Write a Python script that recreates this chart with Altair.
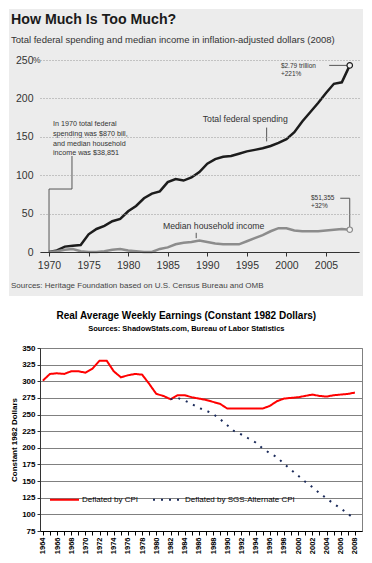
import altair as alt
import pandas as pd

ARIAL = "Liberation Sans, Arial, sans-serif"

# ---------------- top chart data ----------------
years_top = list(range(1970, 2009))
spending = [0, 2, 7, 8, 9, 23, 30, 34, 40, 43, 53, 60, 70, 76, 79, 91, 95, 93, 97, 104,
            115, 121, 124, 125, 128, 131, 133, 135, 138, 142, 147, 156, 170, 182, 194,
            207, 219, 221, 243]
income = [0, 1, 3, 4, 1, 0, 0, 1, 3, 4, 2, 1, 0, 0, 4, 6, 10, 12, 13, 15,
          13, 11, 10, 10, 10, 14, 18, 22, 27, 31, 31, 28, 27, 27, 27, 28, 29, 30, 29]
top_series = ["Total federal spending", "Median household income"]
top_colors = ["#1c1c1c", "#8c8c8c"]
top_xticks = [1970, 1975, 1980, 1985, 1990, 1995, 2000, 2005]
top_yticks = [0, 50, 100, 150, 200, 250]

note_text = ["In 1970 total federal", "spending  was $870 bill,", "and median household", "income was $38,851"]
note_yr = [1970.5] * 4
note_val = [166.7, 153.6, 140.6, 128.9]
end_text = ["$2.79 trillion", "+221%", "$51,355", "+32%"]
end_yr = [1999.3, 1999.3, 2003.1, 2003.1]
end_val = [242.5, 231.5, 70.5, 60.5]
lab_text = ["Total federal spending", "Median household income"]
lab_yr = [1994.8, 1990.8]
lab_val = [173.2, 33.9]
lead_g = [1, 1, 1, 1, 2, 2, 3, 3, 4, 4, 5, 5, 5]
lead_yr = [1970, 1970, 1972.9, 1972.9, 1997.5, 1997.5, 1988.6, 1988.6, 2005.4, 2008, 2006.8, 2008, 2008]
lead_val = [0, 82, 82, 125, 162, 144, 25, 18, 243, 243, 70, 70, 29]

# ---------------- bottom chart data ----------------
years_bot = list(range(1964, 2009))
cpi = [301, 311, 312, 311, 315, 315, 313, 319, 331, 331,
       315, 306, 309, 311, 310, 296, 281, 278, 273, 279,
       279, 276, 274, 272, 269, 266, 259, 259, 259, 259,
       259, 259, 263, 270, 274, 275, 276, 278, 280, 278,
       277, 279, 280, 281, 283]
years_sgs = list(range(1982, 2009))
sgs = [273, 275, 271, 266, 260, 256, 251, 243, 234, 225, 220, 214, 208, 199,
       192, 186, 176, 167, 158, 149, 141, 132, 124, 116, 109, 101, 93]
bot_series = ["Deflated by CPI", "Deflated by SGS-Alternate CPI"]
bot_colors = ["#ff0000", "#1a2a5a"]

# ---------------- top chart ----------------
W, H = 319, 192
top_df = pd.DataFrame({
    "yr": years_top * 2,
    "val": spending + income,
    "series": [top_series[0]] * len(years_top) + [top_series[1]] * len(years_top),
})
end_df = top_df[top_df["yr"] == 2008]

X = alt.X("yr:Q", scale=alt.Scale(domain=[1968.86, 2009.17], nice=False, zero=False),
          axis=alt.Axis(values=top_xticks, format="d", title=None, grid=False,
                        labelFont=ARIAL, labelFontSize=10.5, labelColor="#333",
                        tickColor="#333", tickSize=4, domainColor="#333",
                        labelPadding=4, labelFlush=False, zindex=1))
Y = alt.Y("val:Q", scale=alt.Scale(domain=[0, 250], nice=False, zero=False),
          axis=alt.Axis(values=top_yticks, title=None, domain=False, ticks=False,
                        labelFont=ARIAL, labelFontSize=10.5, labelColor="#333",
                        labelPadding=7, gridDash=[1, 2], gridColor="#999", gridWidth=1,
                        zindex=1))
C = alt.Color("series:N", scale=alt.Scale(domain=top_series, range=top_colors), legend=None)

one = pd.DataFrame({"a": [0]})
bg = alt.Chart(one).mark_rect(color="#ececec").encode(
    x=alt.value(-31), x2=alt.value(W + 4), y=alt.value(-51), y2=alt.value(H + 44))
title_t = alt.Chart(one).mark_text(
    text="How Much Is Too Much?", font=ARIAL, fontSize=14.2, fontWeight="bold",
    color="#1a1a1a", align="left", baseline="alphabetic").encode(
    x=alt.value(-29), y=alt.value(-36))
sub_t = alt.Chart(one).mark_text(
    text="Total federal spending and median income in inflation-adjusted dollars (2008)",
    font=ARIAL, fontSize=9.5, color="#333", align="left", baseline="alphabetic").encode(
    x=alt.value(-29), y=alt.value(-17))
src_t = alt.Chart(one).mark_text(
    text="Sources: Heritage Foundation based on U.S. Census Bureau and OMB",
    font=ARIAL, fontSize=8, color="#444", align="left", baseline="middle").encode(
    x=alt.value(-29), y=alt.value(H + 34))
pct_t = alt.Chart(one).mark_text(
    text="%", font=ARIAL, fontSize=8.5, color="#333", align="left", baseline="middle").encode(
    x=alt.value(-7), y=alt.value(0))

lines = alt.Chart(top_df).mark_line(strokeWidth=2.5).encode(x=X, y=Y, color=C)
pts = alt.Chart(end_df).mark_point(shape="circle", filled=False, fill="#f2f2f2",
                                   fillOpacity=1, size=30, strokeWidth=1.2).encode(
    x=X, y=Y, color=C)

lead = alt.Chart(pd.DataFrame({"g": lead_g, "yr": lead_yr, "val": lead_val,
                               "o": list(range(len(lead_g)))})).mark_line(
    color="#555", strokeWidth=1).encode(x=X, y=Y, detail="g:N", order="o:Q")

note = alt.Chart(pd.DataFrame({"yr": note_yr, "val": note_val, "t": note_text})).mark_text(
    font=ARIAL, fontSize=7.2, color="#333", align="left", baseline="middle").encode(
    x=X, y=Y, text="t:N")
endl = alt.Chart(pd.DataFrame({"yr": end_yr, "val": end_val, "t": end_text})).mark_text(
    font=ARIAL, fontSize=6.5, color="#333", align="left", baseline="middle").encode(
    x=X, y=Y, text="t:N")
labs = alt.Chart(pd.DataFrame({"yr": lab_yr, "val": lab_val, "t": lab_text})).mark_text(
    font=ARIAL, fontSize=8.7, color="#333", align="center", baseline="middle").encode(
    x=X, y=Y, text="t:N")

top = alt.layer(bg, title_t, sub_t, src_t, pct_t, lines, lead, pts, note, endl, labs).properties(
    width=W, height=H, view=alt.ViewBackground(stroke="transparent"))

# ---------------- bottom chart ----------------
WB, HB = 322, 183
bot_df = pd.DataFrame({
    "year": years_bot + years_sgs,
    "earn": cpi + sgs,
    "deflator": [bot_series[0]] * len(years_bot) + [bot_series[1]] * len(years_sgs),
})

leg = alt.Legend(orient="none", legendX=9, legendY=136, direction="horizontal", title=None,
                 symbolType="stroke", symbolSize=841, symbolStrokeWidth=2, labelFont=ARIAL,
                 labelFontSize=8, labelColor="black", columnPadding=10, labelOffset=2)

bottom = alt.Chart(bot_df).mark_line(strokeWidth=2).encode(
    x=alt.X("year:Q", scale=alt.Scale(domain=[1963.6, 2009.0], nice=False, zero=False),
            axis=alt.Axis(values=years_bot, title=None, grid=False,
                          labelExpr="datum.value % 2 == 0 ? '' + datum.value : ''",
                          labelAngle=-90, labelFont=ARIAL, labelFontWeight="bold",
                          labelFontSize=7.5, labelColor="black", tickColor="black",
                          tickSize=4, domainColor="black", labelOverlap=False,
                          labelFlush=False, labelPadding=2)),
    y=alt.Y("earn:Q", scale=alt.Scale(domain=[75, 350], nice=False, zero=False),
            axis=alt.Axis(values=list(range(75, 351, 25)), title="Constant 1982 Dollars",
                          titleFont=ARIAL, titleFontSize=8, titleFontWeight="bold",
                          titleColor="black", titlePadding=3,
                          labelFont=ARIAL, labelFontSize=8, labelFontWeight="bold",
                          labelColor="black", labelPadding=2, tickSize=3, tickColor="#333",
                          domainColor="#333", gridColor="#808080", gridWidth=1.2)),
    color=alt.Color("deflator:N", scale=alt.Scale(domain=bot_series, range=bot_colors),
                    legend=leg),
    strokeDash=alt.StrokeDash("deflator:N",
                              scale=alt.Scale(domain=bot_series, range=[[1, 0], [2, 6]]),
                              legend=leg),
).properties(
    width=WB, height=HB,
    view=alt.ViewBackground(stroke="#808080"),
    title=alt.TitleParams(
        text="Real Average Weekly Earnings (Constant 1982 Dollars)",
        subtitle="Sources: ShadowStats.com, Bureau of Labor Statistics",
        font=ARIAL, fontSize=10, fontWeight="bold", color="black",
        subtitleFont=ARIAL, subtitleFontSize=7.5, subtitleFontWeight="bold",
        subtitleColor="black", subtitlePadding=4, anchor="middle", frame="bounds",
        offset=12),
)

chart = alt.vconcat(top, bottom, spacing=13).resolve_scale(
    x="independent", y="independent", color="independent", strokeDash="independent"
).resolve_axis(x="independent", y="independent").resolve_legend(
    color="independent", strokeDash="independent"
).properties(
    padding={"left": 0, "top": 0, "right": 0, "bottom": 0}
).configure(background="white")

chart.save("out.html", embed_options={"renderer": "svg", "actions": False})
